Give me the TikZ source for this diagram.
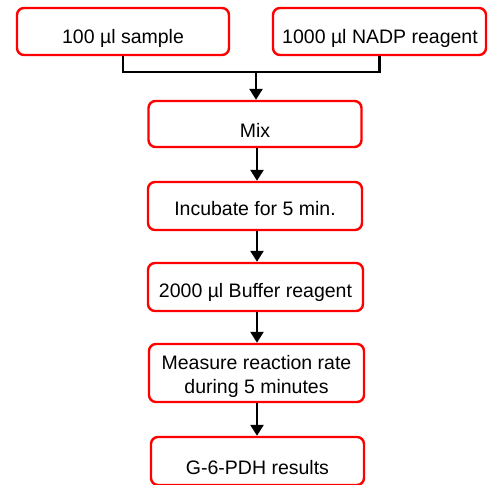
\documentclass[tikz,border=0pt]{standalone}
\usepackage{fontspec}
\setmainfont{Liberation Sans}
\usetikzlibrary{arrows.meta}
\begin{document}
\begin{tikzpicture}[x=1pt,y=-1pt,
  box/.style={draw=red, line width=2.4pt, rounded corners=7pt, fill=white, inner sep=0pt},
  lbl/.style={anchor=base, inner sep=0pt, font=\fontsize{19.5}{24}\selectfont, align=center},
  conn/.style={line width=2.5pt, black},
  arr/.style={conn, -{Triangle[length=11pt,width=13pt]}}]
\useasboundingbox (0,0) rectangle (489,484);
\clip (0,0) rectangle (489,484);
% boxes
\node[box, minimum width=212pt, minimum height=47pt] (sample) at (123,31.5) {};
\node[box, minimum width=213pt, minimum height=47pt] (nadp) at (379.5,31.5) {};
\node[box, minimum width=213pt, minimum height=46pt] (mix) at (255,124) {};
\node[box, minimum width=214pt, minimum height=48pt] (inc) at (255,206) {};
\node[box, minimum width=215pt, minimum height=48pt] (buf) at (255.5,287) {};
\node[box, minimum width=215pt, minimum height=58pt] (meas) at (256.5,373) {};
\node[box, minimum width=213pt, minimum height=48pt] (res) at (257.5,461) {};
% labels
\node[lbl] (sampleT) at (123,44) {100 µl sample};
\node[lbl] (nadpT) at (380,44) {1000 µl NADP reagent};
\node[lbl] (mixT) at (255,137) {Mix};
\node[lbl] (incT) at (255,215.5) {Incubate for 5 min.};
\node[lbl] (bufT) at (255.5,297.5) {2000 µl Buffer reagent};
\node[lbl, anchor=north] (measT) at (256.5,355) {Measure reaction rate\\during 5 minutes};
\node[lbl] (resT) at (257.5,474) {G-6-PDH results};
% connectors
\coordinate (j) at (256,72);
\draw[conn] (sample.south) |- (j) -| (nadp.south);
\draw[arr] (j) -- (j |- mix.north);
\coordinate (a1) at (257,0);
\draw[arr] (a1 |- mix.south) -- (a1 |- inc.north);
\draw[arr] (a1 |- inc.south) -- (a1 |- buf.north);
\draw[arr] (a1 |- buf.south) -- (a1 |- meas.north);
\draw[arr] (a1 |- meas.south) -- (a1 |- res.north);
\end{tikzpicture}
\end{document}
